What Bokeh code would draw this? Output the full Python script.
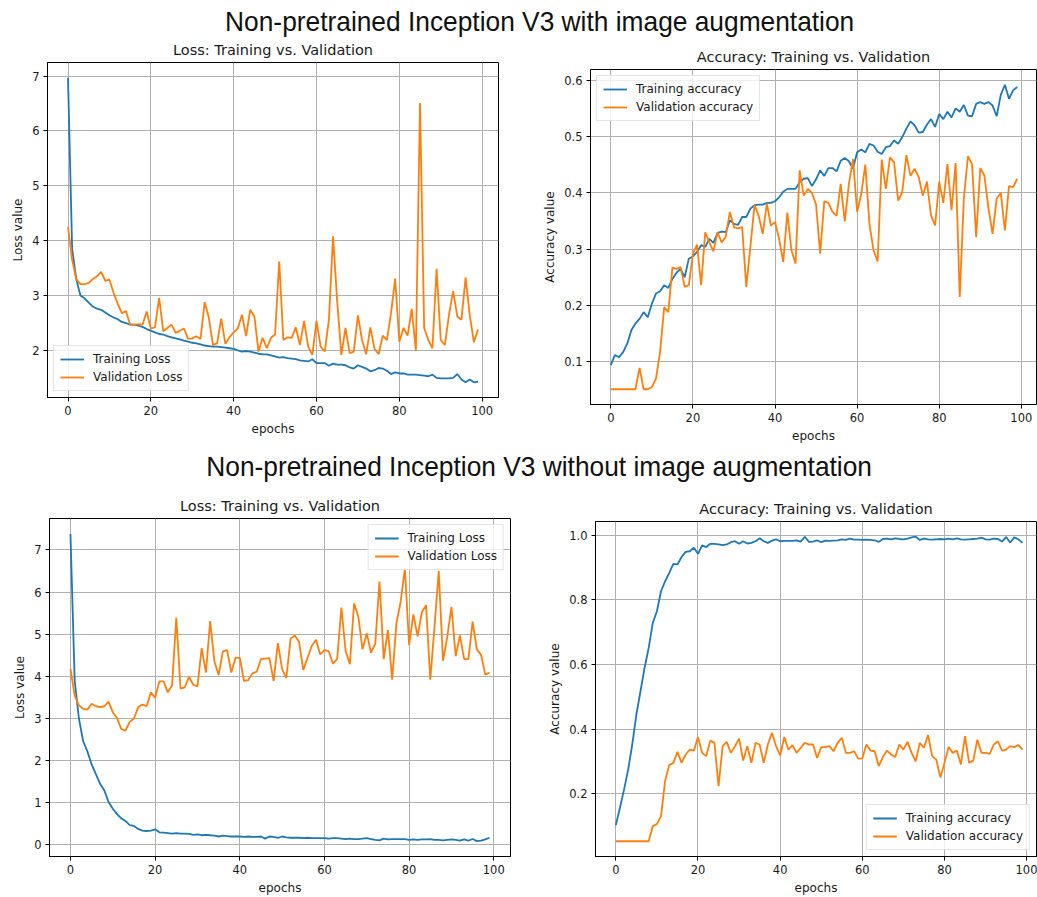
from bokeh.plotting import figure
from bokeh.models import Range1d, FixedTicker, Legend, LegendItem, Div, PrintfTickFormatter, Spacer
from bokeh.layouts import column, row
from bokeh.embed import file_html
from bokeh.resources import INLINE

# ---------------- data ----------------
epochs = list(range(100))
x_ticks = [0, 20, 40, 60, 80, 100]

suptitle_top = "Non-pretrained Inception V3 with image augmentation"
suptitle_bottom = "Non-pretrained Inception V3 without image augmentation"
loss_title = "Loss: Training vs. Validation"
acc_title = "Accuracy: Training vs. Validation"

# Top-left: loss with augmentation
aug_train_loss = [6.97, 3.85, 3.3, 3.0, 2.95, 2.87, 2.8, 2.76, 2.74, 2.69, 2.64, 2.6, 2.57, 2.52, 2.5, 2.47, 2.47,
                  2.45, 2.43, 2.39, 2.36, 2.33, 2.3, 2.29, 2.26, 2.24, 2.22, 2.2, 2.18, 2.16, 2.14, 2.13, 2.11,
                  2.09, 2.08, 2.07, 2.07, 2.06, 2.05, 2.04, 2.03, 2.0, 1.98, 1.99, 1.98, 1.96, 1.94, 1.93, 1.93,
                  1.91, 1.89,
                  1.87, 1.88, 1.86, 1.85, 1.84, 1.82, 1.81, 1.80, 1.84, 1.77, 1.77, 1.77, 1.72, 1.76, 1.74, 1.74,
                  1.73, 1.69, 1.67, 1.73, 1.7, 1.67, 1.62, 1.64, 1.68, 1.67, 1.63, 1.57, 1.6, 1.58, 1.58, 1.56,
                  1.56, 1.56, 1.55, 1.54, 1.53, 1.56, 1.5, 1.49, 1.49, 1.49, 1.5, 1.57, 1.47, 1.42, 1.47, 1.42, 1.43]
aug_val_loss = [4.25, 3.65, 3.3, 3.21, 3.21, 3.23, 3.3, 3.35, 3.43, 3.27, 3.29, 3.05, 2.85, 2.68, 2.72, 2.47,
                2.47, 2.48, 2.47, 2.71, 2.4, 2.42, 2.96, 2.35, 2.41, 2.47, 2.32, 2.36, 2.4, 2.21, 2.22, 2.26,
                2.21, 2.88, 2.6, 2.1, 2.13, 2.58, 2.12, 2.24, 2.33, 2.4, 2.65, 2.26, 2.74, 2.62, 1.98, 2.23,
                2.04, 2.23, 2.29,
                3.62, 2.19, 2.24, 2.23, 2.42, 2.1, 2.54, 2.07, 1.92, 2.54, 2.07, 1.98, 2.56, 4.08, 2.89, 1.92,
                2.41, 1.95, 1.98, 2.64, 2.19, 1.93, 2.42, 2.03, 1.93, 2.27, 2.19, 2.68, 3.31, 2.16, 2.41, 2.27,
                2.76, 1.99, 6.51, 2.41, 2.19, 2.04, 3.49, 2.19, 2.10, 2.65, 3.08, 2.62, 2.56, 3.33, 2.65, 2.15, 2.38]

# Top-right: accuracy with augmentation
aug_train_acc = [0.094, 0.112, 0.108, 0.117, 0.132, 0.156, 0.168, 0.176, 0.188, 0.179, 0.203, 0.221, 0.225,
                 0.236, 0.231, 0.247, 0.258, 0.265, 0.25, 0.283, 0.287, 0.295, 0.307, 0.304, 0.318, 0.311,
                 0.329, 0.331, 0.33, 0.351, 0.345, 0.343, 0.357, 0.357, 0.372, 0.378, 0.379, 0.379, 0.382,
                 0.382, 0.385, 0.392, 0.402, 0.407, 0.407, 0.407, 0.419, 0.425, 0.426,
                 0.412, 0.424, 0.44, 0.43, 0.444, 0.444, 0.438, 0.457, 0.462, 0.456, 0.443, 0.472, 0.477,
                 0.472, 0.487, 0.484, 0.473, 0.469, 0.481, 0.483, 0.493, 0.487, 0.499, 0.514, 0.527, 0.52,
                 0.507, 0.508, 0.521, 0.531, 0.517, 0.54, 0.531, 0.544, 0.534, 0.55, 0.544, 0.556, 0.537,
                 0.536, 0.558, 0.561, 0.558, 0.561, 0.555, 0.536, 0.574, 0.592, 0.567, 0.582, 0.588]
aug_val_acc = [0.051, 0.051, 0.051, 0.051, 0.051, 0.051, 0.051, 0.089, 0.051, 0.051, 0.055, 0.07, 0.117,
               0.197, 0.188, 0.267, 0.265, 0.268, 0.233, 0.236, 0.292, 0.308, 0.236, 0.33, 0.312, 0.296,
               0.33, 0.312, 0.322, 0.366, 0.339, 0.337, 0.339, 0.233, 0.304, 0.378, 0.36, 0.327, 0.381,
               0.342, 0.348, 0.318, 0.277, 0.365, 0.298, 0.274, 0.44, 0.395,
               0.407, 0.40, 0.379, 0.292, 0.385, 0.382, 0.366, 0.359, 0.416, 0.349, 0.416, 0.46, 0.366,
               0.398, 0.45, 0.345, 0.298, 0.278, 0.459, 0.407, 0.463, 0.454, 0.386, 0.401, 0.467, 0.43,
               0.443, 0.428, 0.395, 0.42, 0.36, 0.342, 0.42, 0.382, 0.451, 0.369, 0.453, 0.215, 0.39,
               0.465, 0.451, 0.321, 0.444, 0.431, 0.372, 0.327, 0.39, 0.40, 0.333, 0.412, 0.41, 0.425]

# Bottom-left: loss without augmentation
noaug_train_loss = [7.38, 3.9, 3.0, 2.46, 2.22, 1.91, 1.68, 1.45, 1.29, 1.02, 0.86, 0.73, 0.63, 0.57, 0.47,
                    0.45, 0.38, 0.34, 0.33, 0.34, 0.37,
                    0.3, 0.29, 0.28, 0.27, 0.28, 0.27, 0.27, 0.26, 0.24, 0.25, 0.23, 0.24, 0.23, 0.22, 0.2,
                    0.22, 0.21, 0.2, 0.2, 0.2, 0.19, 0.2, 0.19, 0.19, 0.2, 0.15, 0.2, 0.19, 0.17, 0.2, 0.18,
                    0.17, 0.17, 0.17, 0.16, 0.17, 0.16, 0.16, 0.16, 0.16, 0.15, 0.16, 0.16, 0.15, 0.14, 0.15,
                    0.14, 0.14, 0.15, 0.16, 0.14, 0.12, 0.11, 0.15, 0.13, 0.14, 0.14, 0.14, 0.14, 0.12, 0.13,
                    0.12, 0.13, 0.13, 0.14, 0.12, 0.12, 0.11, 0.12, 0.13, 0.12, 0.1, 0.13, 0.1, 0.14, 0.09,
                    0.1, 0.13, 0.17]
noaug_val_loss = [4.18, 3.54, 3.31, 3.23, 3.21, 3.35, 3.29, 3.27, 3.29, 3.4, 3.15, 3.01, 2.75, 2.71, 2.92,
                  3.0, 3.27, 3.33, 3.29, 3.62, 3.49, 3.88, 3.88, 3.62, 3.78, 5.39, 3.71, 3.74, 3.99, 3.8,
                  3.76, 4.67, 4.09, 5.31, 4.36, 4.03, 4.59, 4.62, 4.09, 4.44, 4.44, 3.89, 3.91, 4.07, 4.11,
                  4.41, 4.42, 4.43, 3.89, 4.79, 4.17, 3.96, 4.9, 4.97, 4.82, 4.15, 4.44, 4.72, 4.87, 4.52,
                  4.62, 4.6, 4.3, 4.41, 5.63, 4.6, 4.29, 5.73, 5.42, 4.64, 5.02, 4.56, 4.77, 6.25, 4.41, 5.1,
                  3.92, 5.26, 5.77, 6.56, 4.74, 5.47, 4.95, 5.52, 5.69, 3.92, 5.18, 6.5, 4.37, 4.93, 5.65,
                  4.48, 4.97, 4.41, 4.41, 5.3, 4.64, 4.51, 4.04, 4.09]

# Bottom-right: accuracy without augmentation
noaug_train_acc = [0.102, 0.156, 0.212, 0.274, 0.352, 0.445, 0.517, 0.59, 0.652, 0.729, 0.765, 0.827, 0.858,
                   0.884, 0.912, 0.91, 0.933, 0.949, 0.951, 0.962, 0.943, 0.969, 0.964, 0.974, 0.974, 0.972,
                   0.97, 0.972, 0.979, 0.982, 0.974, 0.982, 0.975, 0.977, 0.982, 0.991, 0.982, 0.977, 0.984,
                   0.988, 0.982,
                   0.983, 0.983, 0.983, 0.985, 0.981, 0.996, 0.98, 0.981, 0.985, 0.979, 0.984, 0.983, 0.984,
                   0.985, 0.988, 0.986, 0.99, 0.987, 0.987, 0.986, 0.987, 0.986, 0.985, 0.98, 0.989, 0.99,
                   0.988, 0.991, 0.989, 0.988, 0.99, 0.994, 0.996, 0.986, 0.99, 0.988, 0.987, 0.988, 0.989,
                   0.988, 0.99, 0.988, 0.991, 0.988, 0.987, 0.988, 0.989, 0.99, 0.993, 0.988, 0.987, 0.99,
                   0.989, 0.981, 0.995, 0.978, 0.994, 0.988, 0.977]
noaug_val_acc = [0.052, 0.052, 0.052, 0.052, 0.052, 0.052, 0.052, 0.052, 0.052, 0.099, 0.105, 0.13, 0.24,
                 0.288, 0.295, 0.329, 0.295, 0.321, 0.336, 0.333, 0.375, 0.326, 0.316, 0.364, 0.357, 0.223,
                 0.347, 0.36, 0.326, 0.347, 0.37, 0.302, 0.347, 0.295, 0.357, 0.352, 0.295, 0.352, 0.388,
                 0.347, 0.318, 0.375, 0.336, 0.35, 0.326, 0.342, 0.357, 0.352, 0.352, 0.31, 0.344, 0.344,
                 0.347, 0.331, 0.357, 0.373, 0.326, 0.326, 0.331, 0.308, 0.309, 0.352, 0.333, 0.331, 0.285,
                 0.313, 0.333, 0.321, 0.313, 0.352, 0.336, 0.36, 0.326, 0.3, 0.357, 0.342, 0.381, 0.316,
                 0.305, 0.25, 0.295, 0.344, 0.326, 0.333, 0.29, 0.378, 0.295, 0.302, 0.367, 0.326, 0.326,
                 0.323, 0.352, 0.362, 0.333, 0.336, 0.347, 0.344, 0.35, 0.336]

loss_ticks_top = [2, 3, 4, 5, 6, 7]
acc_ticks_top = [0.1, 0.2, 0.3, 0.4, 0.5, 0.6]
loss_ticks_bottom = [0, 1, 2, 3, 4, 5, 6, 7]
acc_ticks_bottom = [0.2, 0.4, 0.6, 0.8, 1.0]

BLUE = "#1f77b4"
ORANGE = "#ff7f0e"
FONT = "DejaVu Sans"
TXT = "#1a1a1a"


def panel(title, train, val, labels, ylabel, yticks, yfmt, loc,
          width, height, bl, br, bt, bb, x_end):
    lo = min(min(train), min(val))
    hi = max(max(train), max(val))
    pad = 0.05 * (hi - lo)
    p = figure(width=width, height=height, output_backend="svg", toolbar_location=None,
               min_border_left=bl, min_border_right=br, min_border_top=bt, min_border_bottom=bb,
               x_range=Range1d(-4.95, x_end), y_range=Range1d(lo - pad, hi + pad))
    p.background_fill_color = "white"
    p.border_fill_color = None
    p.outline_line_color = "black"
    p.outline_line_width = 1
    p.outline_line_alpha = 1

    p.title.text = title
    p.title.text_font = FONT
    p.title.text_font_size = "14.5px"
    p.title.text_font_style = "normal"
    p.title.text_color = TXT
    p.title.align = "center"
    p.title.standoff = 10

    p.xaxis.ticker = FixedTicker(ticks=x_ticks)
    p.yaxis.ticker = FixedTicker(ticks=yticks)
    p.xaxis.formatter = PrintfTickFormatter(format="%d")
    p.yaxis.formatter = PrintfTickFormatter(format=yfmt)
    p.xaxis.axis_label = "epochs"
    p.yaxis.axis_label = ylabel
    for ax in (p.xaxis, p.yaxis):
        ax.major_tick_out = 4
        ax.major_tick_in = 0
        ax.minor_tick_out = 0
        ax.minor_tick_in = 0
        ax.axis_line_color = "black"
        ax.major_tick_line_color = "black"
        ax.major_label_text_font = FONT
        ax.major_label_text_font_size = "11.5px"
        ax.major_label_text_color = TXT
        ax.axis_label_text_font = FONT
        ax.axis_label_text_font_size = "12px"
        ax.axis_label_text_font_style = "normal"
        ax.axis_label_text_color = TXT
        ax.major_label_standoff = 4
        ax.axis_label_standoff = 4
    p.xgrid.grid_line_color = "#b0b0b0"
    p.ygrid.grid_line_color = "#b0b0b0"
    p.xgrid.grid_line_width = 1
    p.ygrid.grid_line_width = 1

    r1 = p.line(epochs, train, line_color=BLUE, line_width=1.8)
    r2 = p.line(epochs, val, line_color=ORANGE, line_width=1.8)
    leg = Legend(items=[LegendItem(label=labels[0], renderers=[r1]),
                        LegendItem(label=labels[1], renderers=[r2])],
                 location=loc)
    leg.label_text_font = FONT
    leg.label_text_font_size = "12px"
    leg.label_text_color = TXT
    leg.padding = 6
    leg.margin = 6
    leg.spacing = 4
    leg.glyph_width = 24
    leg.glyph_height = 14
    leg.label_height = 14
    leg.label_standoff = 9
    leg.border_line_color = "#cccccc"
    leg.border_line_width = 1
    leg.background_fill_alpha = 0.8
    p.add_layout(leg)
    return p


p1 = panel(loss_title, aug_train_loss, aug_val_loss, ["Training Loss", "Validation Loss"],
           "Loss value", loss_ticks_top, "%d", "bottom_left", 540, 424, 47, 42, 36, 53, 103.95)
p2 = panel(acc_title, aug_train_acc, aug_val_acc, ["Training accuracy", "Validation accuracy"],
           "Accuracy value", acc_ticks_top, "%.1f", "top_left", 497, 417, 48, 1, 36, 46, 103.7)
p3 = panel(loss_title, noaug_train_loss, noaug_val_loss, ["Training Loss", "Validation Loss"],
           "Loss value", loss_ticks_bottom, "%d", "top_right", 545, 415, 49, 35, 36, 37, 103.95)
p4 = panel(acc_title, noaug_train_acc, noaug_val_acc, ["Training accuracy", "Validation accuracy"],
           "Accuracy value", acc_ticks_bottom, "%.1f", "bottom_right", 492, 412, 48, 1, 36, 41, 102.4)

outer = ("text-align:center;width:1037px;box-sizing:border-box;padding-left:42px;"
         "white-space:nowrap;overflow:visible;")
inner = ("display:inline-block;transform:scaleX(0.94);font-family:'Liberation Sans';"
         "font-size:28px;color:#111111;")
d1 = Div(text=f"<div style=\"{outer}line-height:44px\"><span style=\"{inner}\">{suptitle_top}</span></div>",
         width=1037, height=26, margin=0, styles={"overflow": "visible"})
d2 = Div(text=f"<div style=\"{outer}line-height:34px\"><span style=\"{inner}\">{suptitle_bottom}</span></div>",
         width=1037, height=32, margin=0, styles={"overflow": "visible"})

top_row = row(column(p1, spacing=0), column(Spacer(width=497, height=7), p2, spacing=0), spacing=0)
bottom_row = row(column(p3, spacing=0), column(Spacer(width=492, height=3), p4, spacing=0), spacing=0)
layout = column(d1, top_row, d2, bottom_row, spacing=0)

with open("out.html", "w") as f:
    f.write(file_html(layout, INLINE))
